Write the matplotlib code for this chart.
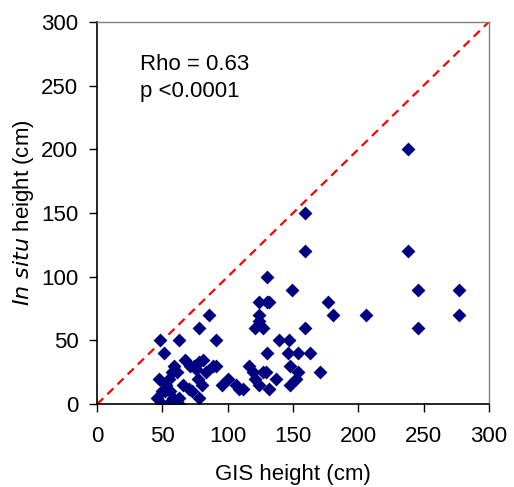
import numpy as np
import matplotlib
matplotlib.use('Agg')
import matplotlib.pyplot as plt

plt.rcParams['font.family'] = ['Liberation Sans', 'DejaVu Sans']

# GIS height (x) vs in situ height (y), cm
gis = [238, 159, 159, 238, 130, 149, 246, 277, 177, 124, 130, 132,
       181, 206, 277, 124, 86, 78, 159, 246, 121, 127, 124,
       48, 63, 91, 139, 147, 51, 130, 146, 154, 163,
       171, 148, 154, 152, 148, 137, 132, 129, 127, 124, 121, 119, 116,
       112, 109, 106, 100, 96, 91, 89, 83, 81, 78, 80, 77, 78,
       73, 71, 74, 67, 66, 63, 63, 59, 57, 61, 55, 47, 53, 50, 46,
       50, 54, 58, 52, 56, 70, 76]
situ = [200, 150, 120, 120, 100, 90, 90, 90, 80, 80, 80, 80,
        70, 70, 70, 70, 70, 60, 60, 60, 60, 60, 65,
        50, 50, 50, 50, 50, 40, 40, 40, 40, 40,
        25, 30, 25, 20, 15, 20, 12, 25, 25, 15, 20, 25, 30,
        12, 12, 15, 20, 15, 30, 30, 25, 35, 33, 15, 20, 5,
        10, 30, 30, 35, 15, 0, 5, 30, 25, 25, 20, 20, 15, 10, 5,
        0, 0, 5, 10, 10, 12, 28]

fig = plt.figure(figsize=(5.14, 4.87), dpi=100)
ax = fig.add_axes([0.189, 0.170, 0.762, 0.785])

ax.plot([0, 300], [0, 300], color='#ff0000', linestyle=(0, (3.8, 2.6)), linewidth=1.6, zorder=1)
ax.scatter(gis, situ, marker='D', s=50, color='#000080', linewidths=0, zorder=2)

ax.set_xlim(0, 300)
ax.set_ylim(0, 300)
ax.set_xticks(np.arange(0, 301, 50))
ax.set_yticks(np.arange(0, 301, 50))
ax.tick_params(direction='out', length=5.5, width=1, labelsize=16, pad=8)
ax.tick_params(axis='x', pad=10.5)

for side in ['left', 'bottom']:
    ax.spines[side].set_linewidth(1.2)
for side in ['top', 'right']:
    ax.spines[side].set_color('#808080')
    ax.spines[side].set_linewidth(1.0)

ax.set_xlabel('GIS height (cm)', fontsize=16, labelpad=12)
ax.set_ylabel('$\\mathit{In\\ situ}$ height (cm)', fontsize=16, labelpad=4)

ax.text(33, 275, 'Rho = 0.63\np <0.0001', fontsize=16, va='top', ha='left', linespacing=1.4)

fig.savefig('out.png', dpi=100)
